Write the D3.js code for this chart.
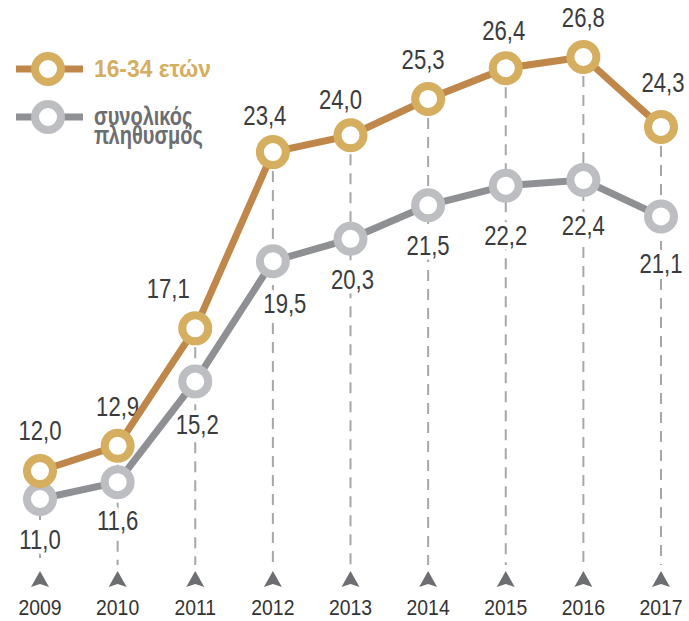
<!DOCTYPE html>
<html>
<head>
<meta charset="utf-8">
<script src="https://cdn.jsdelivr.net/npm/d3@7/dist/d3.min.js"></script>
<style>
  html, body { margin: 0; padding: 0; background: #fff; }
  svg { display: block; }
  .f { font-family: "Liberation Sans", Arial, "Helvetica", sans-serif; }
</style>
</head>
<body>
<svg id="chart" width="689" height="621"></svg>
<script>
// ---- data ----
const years = ["2009","2010","2011","2012","2013","2014","2015","2016","2017"];
const youth = [12.0, 12.9, 17.1, 23.4, 24.0, 25.3, 26.4, 26.8, 24.3];
const total = [11.0, 11.6, 15.2, 19.5, 20.3, 21.5, 22.2, 22.4, 21.1];
const seriesNames = ["16-34 ετών", "συνολικός", "πληθυσμός"];

// ---- layout (label nudges) ----
const youthLabelDx = [0, 0, -27, -8, -10, -5, -2, 0, 2];
const youthLabelDy = [-41, -40, -40, -37, -36, -40, -38, -40, -45];
const totalLabelDx = [0, 0, 2, 12, 2, 0, 0, 0, 0];
const totalLabelDy = [40, 38, 42, 42, 40, 40, 49, 45, 47];

const fmt = v => v.toFixed(1).replace(".", ",");

const svg = d3.select("#chart");
const x = d3.scalePoint().domain(years).range([40, 661]);
const y = d3.scaleLinear().domain([11, 26.8]).range([499, 57]);

const cOrangeLine = "#c0874a", cOrangeRing = "#d5ae60";
const cGrayLine = "#8f9093", cGrayRing = "#bdbec1";
const cText = "#3b3b3d";

// dashed guides
const g = svg.append("g");
g.selectAll("line.guide").data(years).join("line")
  .attr("x1", d => x(d)).attr("x2", d => x(d))
  .attr("y1", (d, i) => y(youth[i])).attr("y2", 565)
  .attr("stroke", "#a5a7aa").attr("stroke-width", 2)
  .attr("stroke-dasharray", "11,8");

// axis ticks: triangles + year labels
const tri = "M0,-8 L9,8 L0,5 L-9,8 Z";
g.selectAll("path.tri").data(years).join("path")
  .attr("d", tri)
  .attr("transform", d => `translate(${x(d)},579)`)
  .attr("fill", "#6d6e71");
g.selectAll("text.year").data(years).join("text")
  .attr("class", "f")
  .attr("transform", d => `translate(${x(d)},615) scale(0.88,1)`)
  .attr("text-anchor", "middle")
  .attr("font-size", 22).attr("fill", "#333")
  .text(d => d);

// value labels (white halo cuts dashed lines)
function labels(vals, dx, dy) {
  g.append("g").selectAll("text").data(vals).join("text")
    .attr("class", "f")
    .attr("transform", (d, i) => `translate(${x(years[i]) + dx[i]},${y(d) + dy[i] + 10}) scale(0.82,1)`)
    .attr("text-anchor", "middle")
    .attr("font-size", 27).attr("fill", cText)
    .attr("stroke", "#fff").attr("stroke-width", 9)
    .attr("paint-order", "stroke")
    .attr("stroke-linejoin", "round")
    .text(d => fmt(d));
}
labels(youth, youthLabelDx, youthLabelDy);
labels(total, totalLabelDx, totalLabelDy);

// lines
const line = d3.line().x((d, i) => x(years[i])).y(d => y(d));
g.append("path").datum(total).attr("d", line)
  .attr("fill", "none").attr("stroke", cGrayLine).attr("stroke-width", 7);
g.append("path").datum(youth).attr("d", line)
  .attr("fill", "none").attr("stroke", cOrangeLine).attr("stroke-width", 7);

// markers
function markers(vals, ring) {
  g.append("g").selectAll("circle").data(vals).join("circle")
    .attr("cx", (d, i) => x(years[i])).attr("cy", d => y(d))
    .attr("r", 13).attr("fill", "#fff")
    .attr("stroke", ring).attr("stroke-width", 8);
}
markers(total, cGrayRing);
markers(youth, cOrangeRing);

// legend
const leg = svg.append("g");
function legendItem(cy, lineC, ringC) {
  leg.append("line").attr("x1", 16).attr("x2", 83).attr("y1", cy).attr("y2", cy)
    .attr("stroke", lineC).attr("stroke-width", 7);
  leg.append("circle").attr("cx", 48).attr("cy", cy).attr("r", 13)
    .attr("fill", "#fff").attr("stroke", ringC).attr("stroke-width", 8);
}
legendItem(69, cOrangeLine, cOrangeRing);
legendItem(117, cGrayLine, cGrayRing);

const t1 = leg.append("text").attr("class", "f")
  .attr("font-size", 24.5).attr("font-weight", "bold").attr("fill", cOrangeRing)
  .text(seriesNames[0]);
{
  const w = t1.node().getComputedTextLength();
  t1.attr("transform", `translate(94,77) scale(${117 / w},1)`);
}
const t2 = leg.append("text").attr("class", "f")
  .attr("font-size", 26.5).attr("font-weight", "bold").attr("fill", "#6d6e71");
t2.append("tspan").attr("x", 0).attr("y", 0).text(seriesNames[1]);
t2.append("tspan").attr("x", 0).attr("y", 19).text(seriesNames[2]);
{
  const w = t2.select("tspan:last-child").node().getComputedTextLength();
  t2.attr("transform", `translate(94,124.5) scale(${109 / w},1)`);
}
</script>
</body>
</html>
